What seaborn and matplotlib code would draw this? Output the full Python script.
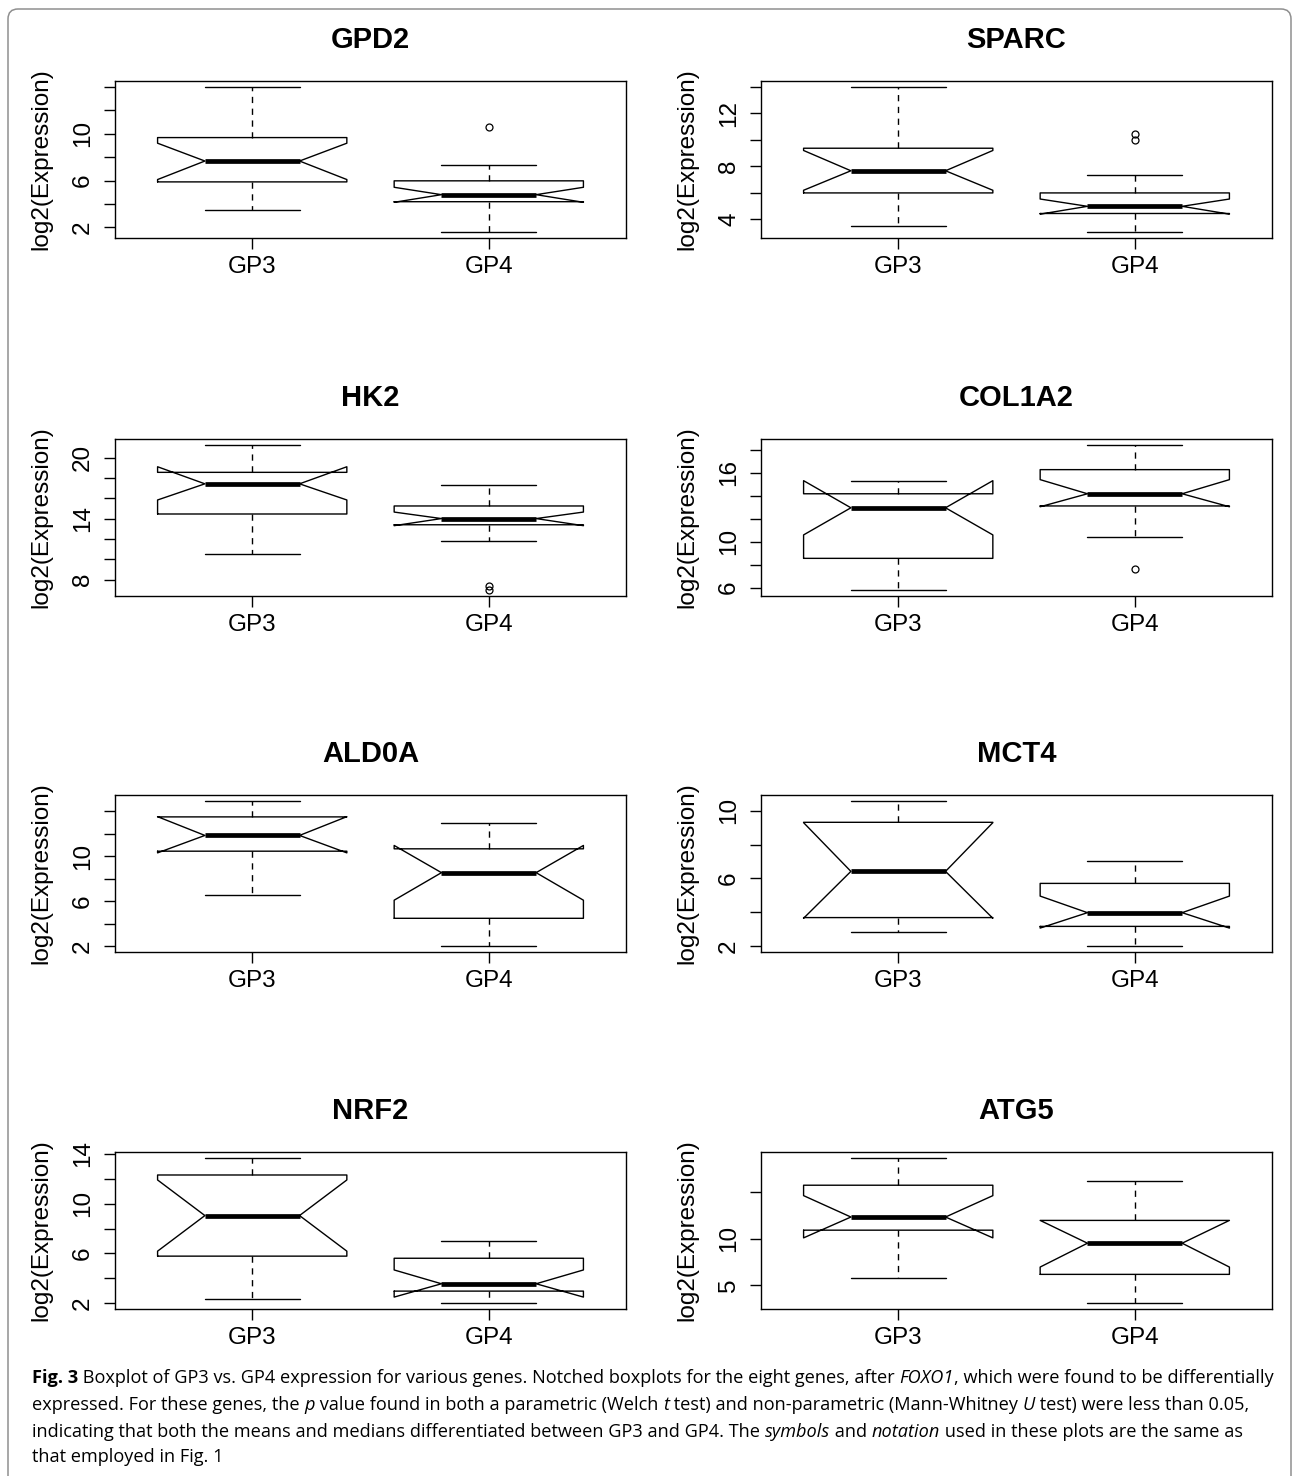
import matplotlib
matplotlib.use("Agg")
import matplotlib.pyplot as plt
import seaborn as sns
from matplotlib.patches import FancyBboxPatch
from matplotlib.transforms import IdentityTransform

# ---- data (values are log2 expression) ----
genes = ["GPD2", "SPARC", "HK2", "COL1A2", "ALD0A", "MCT4", "NRF2", "ATG5"]
groups = ["GP3", "GP4"]

# every list holds one (GP3, GP4) pair per gene
whislo = [(3.46, 1.60), (3.50, 3.04), (10.48, 11.83), (5.77, 10.43),
          (6.57, 2.00), (2.81, 2.00), (2.32, 2.00), (5.75, 3.11)]
q1 = [(5.89, 4.20), (6.00, 4.45), (14.45, 13.39), (8.54, 13.10),
      (10.45, 4.48), (3.69, 3.17), (5.78, 2.97), (10.89, 6.18)]
cilo = [(6.09, 4.15), (6.20, 4.40), (15.83, 13.30), (10.58, 13.03),
        (10.30, 6.09), (3.65, 3.07), (6.18, 2.49), (10.07, 6.96)]
med = [(7.67, 4.80), (7.67, 4.99), (17.42, 14.00), (12.94, 14.16),
       (11.85, 8.54), (6.42, 3.98), (9.04, 3.56), (12.29, 9.50)]
cihi = [(9.19, 5.43), (9.20, 5.54), (19.10, 14.64), (15.30, 15.39),
        (13.52, 10.96), (9.30, 4.96), (11.90, 4.67), (14.57, 11.93)]
q3 = [(9.67, 5.98), (9.37, 6.00), (18.55, 15.24), (14.16, 16.26),
      (13.50, 10.66), (9.32, 5.71), (12.30, 5.61), (15.68, 11.93)]
whishi = [(14.00, 7.35), (14.00, 7.37), (21.26, 17.29), (15.30, 18.42),
          (14.93, 12.96), (10.59, 7.02), (13.68, 7.02), (18.60, 16.14)]
fliers = [([], [10.53]), ([], [9.97, 10.48]), ([], [6.95, 7.35]), ([], [7.63]),
          ([], []), ([], []), ([], []), ([], [])]

yticks = [[2, 4, 6, 8, 10, 12, 14], [4, 6, 8, 10, 12, 14],
          [8, 10, 12, 14, 16, 18, 20], [6, 8, 10, 12, 14, 16, 18],
          [2, 4, 6, 8, 10, 12, 14], [2, 4, 6, 8, 10],
          [2, 4, 6, 8, 10, 12, 14], [5, 10, 15]]
ytick_labels = [["2", "", "6", "", "10", "", ""], ["4", "", "8", "", "12", ""],
                ["8", "", "", "14", "", "", "20"], ["6", "", "10", "", "", "16", ""],
                ["2", "", "6", "", "10", "", ""], ["2", "", "6", "", "10"],
                ["2", "", "6", "", "10", "", "14"], ["5", "10", ""]]

caption_lines = [
    [("Fig. 3", "bold", "normal"),
     (" Boxplot of GP3 vs. GP4 expression for various genes. Notched boxplots for the eight genes, after ", "normal", "normal"),
     ("FOXO1", "normal", "italic"),
     (", which were found to be differentially", "normal", "normal")],
    [("expressed. For these genes, the ", "normal", "normal"),
     ("p", "normal", "italic"),
     (" value found in both a parametric (Welch ", "normal", "normal"),
     ("t", "normal", "italic"),
     (" test) and non-parametric (Mann-Whitney ", "normal", "normal"),
     ("U", "normal", "italic"),
     (" test) were less than 0.05,", "normal", "normal")],
    [("indicating that both the means and medians differentiated between GP3 and GP4. The ", "normal", "normal"),
     ("symbols", "normal", "italic"),
     (" and ", "normal", "normal"),
     ("notation", "normal", "italic"),
     (" used in these plots are the same as", "normal", "normal")],
    [("that employed in Fig. 1", "normal", "normal")],
]

# ---- layout (pixels) ----
W, H = 1294, 1476
col_left = [115, 761]
row_top = [81, 439, 795, 1152]
ax_w, ax_h = 511, 157
cap_x, cap_right = 32, 1270
cap_baselines = [1383, 1410, 1437, 1462]

sns.set_theme(style="ticks", rc={
    "axes.linewidth": 1.0,
    "axes.edgecolor": "black",
    "xtick.direction": "out",
    "ytick.direction": "out",
    "xtick.major.size": 8,
    "ytick.major.size": 8,
    "xtick.major.width": 1.0,
    "ytick.major.width": 1.0,
    "xtick.color": "black",
    "ytick.color": "black",
    "text.color": "black",
    "axes.labelcolor": "black",
})
plt.rcParams["font.family"] = ["Liberation Sans", "DejaVu Sans"]

fig = plt.figure(figsize=(W / 100, H / 100), dpi=100)

box_kw = dict(
    boxprops=dict(color="black", linewidth=1.0),
    medianprops=dict(color="black", linewidth=3.4, solid_capstyle="butt"),
    whiskerprops=dict(color="black", linewidth=1.0, linestyle=(0, (4.5, 4))),
    capprops=dict(color="black", linewidth=1.0),
    flierprops=dict(marker="o", markersize=5, markerfacecolor="none",
                    markeredgecolor="black", markeredgewidth=0.9, linestyle="none"),
)

for i, gene in enumerate(genes):
    r, c = divmod(i, 2)
    left, top = col_left[c], row_top[r]
    ax = fig.add_axes([left / W, 1 - (top + ax_h) / H, ax_w / W, ax_h / H])

    stats = []
    for g, name in enumerate(groups):
        stats.append(dict(label=name, med=med[i][g], q1=q1[i][g], q3=q3[i][g],
                          cilo=cilo[i][g], cihi=cihi[i][g],
                          whislo=whislo[i][g], whishi=whishi[i][g],
                          fliers=fliers[i][g]))
    ax.bxp(stats, positions=[1, 2], widths=0.8, shownotches=True,
           showfliers=True, **box_kw)

    # R-style limits: data range plus 4 %
    vals = list(whislo[i]) + list(whishi[i]) + fliers[i][0] + fliers[i][1]
    lo, hi = min(vals), max(vals)
    pad = 0.04 * (hi - lo)
    ax.set_ylim(lo - pad, hi + pad)
    ax.set_xlim(0.5 - 0.08, 2.5 + 0.08)

    ax.set_yticks(yticks[i], ytick_labels[i])
    for lab in ax.get_yticklabels():
        lab.set_rotation(90)
        lab.set_va("center")
    ax.tick_params(axis="x", labelsize=17.5, pad=5)
    ax.tick_params(axis="y", labelsize=17.5, pad=7)

    ax.set_title(gene, fontsize=21, fontweight="bold", pad=23.5)
    ax.set_ylabel("log2(Expression)", fontsize=17.5)
    ax.yaxis.set_label_coords(-0.123, 0.5)
    for sp in ax.spines.values():
        sp.set_visible(True)
        sp.set_linewidth(1.0)

# ---- outer frame ----
frame = FancyBboxPatch((8, -30), 1283, H - 9 + 30,
                       boxstyle="round,pad=0,rounding_size=10",
                       transform=IdentityTransform(), facecolor="none",
                       edgecolor="#8f8f8f", linewidth=1.1)
fig.add_artist(frame)

# ---- caption with mixed styles ----
cap_font = ["Open Sans", "DejaVu Sans"]
renderer = fig.canvas.get_renderer()


def run_width(text, size, weight, style):
    t1 = fig.text(0, 0, text + "|", fontsize=size, fontweight=weight,
                  fontstyle=style, family=cap_font)
    t2 = fig.text(0, 0, "|", fontsize=size, fontweight=weight,
                  fontstyle=style, family=cap_font)
    w = t1.get_window_extent(renderer).width - t2.get_window_extent(renderer).width
    t1.remove()
    t2.remove()
    return w


base = 12.0
line1_w = sum(run_width(t, base, wt, st) for t, wt, st in caption_lines[0])
cap_size = base * (cap_right - cap_x) / line1_w

for runs, yb in zip(caption_lines, cap_baselines):
    x = cap_x
    for text, wt, st in runs:
        fig.text(x / W, 1 - yb / H, text, fontsize=cap_size, fontweight=wt,
                 fontstyle=st, family=cap_font, ha="left", va="baseline")
        x += run_width(text, cap_size, wt, st)

fig.savefig("out.png", dpi=100)
